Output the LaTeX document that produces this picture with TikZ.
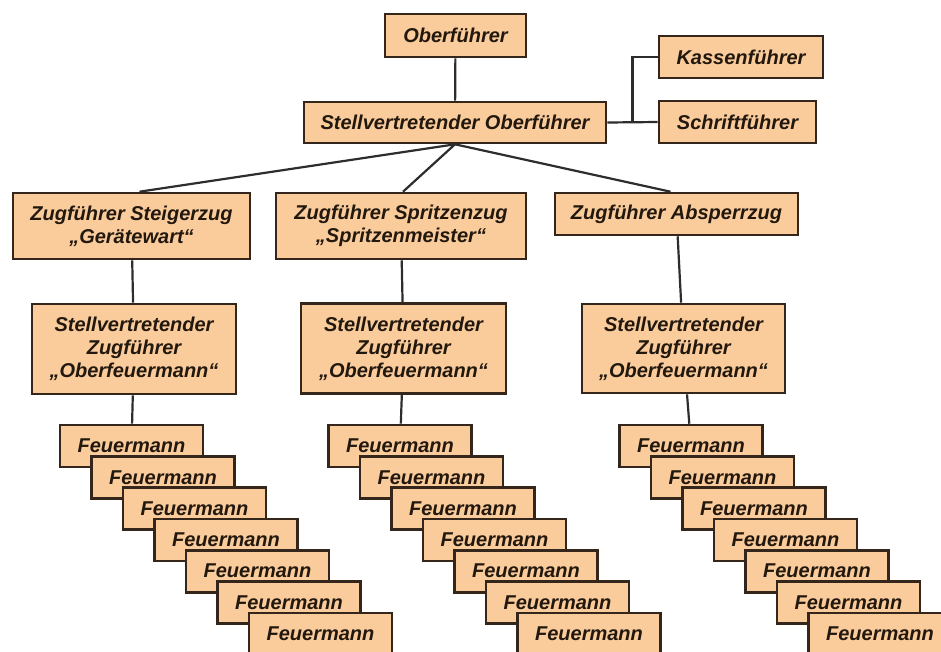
\documentclass[tikz,border=0pt]{standalone}
\usepackage{fontspec}
\setmainfont{Liberation Sans}
\usetikzlibrary{positioning,calc}
\definecolor{boxfill}{RGB}{250,204,156}
\definecolor{boxline}{RGB}{52,38,26}
\definecolor{textcol}{RGB}{35,24,14}
\definecolor{linecol}{RGB}{45,45,45}
\tikzset{
	box/.style={draw=boxline, line width=2.6pt, fill=boxfill, text=textcol,
		inner sep=0pt, align=center,
		font=\fontsize{20}{23}\selectfont\bfseries\itshape},
	feuer/.style={box, minimum width=143pt, minimum height=42pt},
	conn/.style={draw=linecol, line width=2.2pt},
}

\begin{document}
\begin{tikzpicture}[x=1pt,y=-1pt]
	\useasboundingbox (0,0) rectangle (941,651);

	\node[box, minimum width=141pt, minimum height=43pt] (ob) at (455.5,35.5) {Oberführer};
	\node[box, minimum width=302pt, minimum height=41pt] (so) at (455,122.5) {Stellvertretender Oberführer};
	\node[box, minimum width=164pt, minimum height=42pt] (kf) at (741,57) {Kassenführer};
	\node[box, minimum width=157pt, minimum height=42pt] (sf) at (737.5,122) {Schriftführer};

	\node[box, minimum width=237pt, minimum height=66pt] (z1) at (131.5,226) {Zugführer Steigerzug\\„Gerätewart“};
	\node[box, minimum width=250pt, minimum height=66pt] (z2) at (401,226) {Zugführer Spritzenzug\\„Spritzenmeister“};
	\node[box, minimum width=243pt, minimum height=42pt] (z3) at (676.5,214) {Zugführer Absperrzug};

	\node[box, minimum width=204pt, minimum height=90pt] (sz1) at (134,349) {Stellvertretender\\Zugführer\\„Oberfeuermann“};
	\node[box, minimum width=205pt, minimum height=90pt] (sz2) at (403.5,348.5) {Stellvertretender\\Zugführer\\„Oberfeuermann“};
	\node[box, minimum width=203pt, minimum height=89pt] (sz3) at (683.5,348.5) {Stellvertretender\\Zugführer\\„Oberfeuermann“};

	% Feuermann stacks
	\foreach \c/\x in {1/131.5, 2/400, 3/691}{
		\foreach \i in {1,...,7}{
			\node[feuer] (f\c\i) at ({\x+31.5*(\i-1)},{446+31.3*(\i-1)}) {Feuermann};
		}
	}

	\draw[conn] (ob) -- (so);
	\draw[conn] (so.east) -- (sf.west);
	\coordinate (kn) at ($(so.east)!0.5!(sf.west)$);
	\draw[conn] (kn) |- (kf.west);

	\draw[conn] (so.south) -- ($(z1.north)+(8,0)$);
	\draw[conn] (so.south) -- ($(z2.north)+(2,0)$);
	\draw[conn] (so.south) -- ($(z3.north)+(-6,0)$);

	\draw[conn] (z1) -- (sz1);
	\draw[conn] (z2) -- (sz2);
	\draw[conn] (z3) -- (sz3);

	\draw[conn] (sz1) -- (f11);
	\draw[conn] (sz2) -- (f21);
	\draw[conn] (sz3) -- (f31);
\end{tikzpicture}
\end{document}
